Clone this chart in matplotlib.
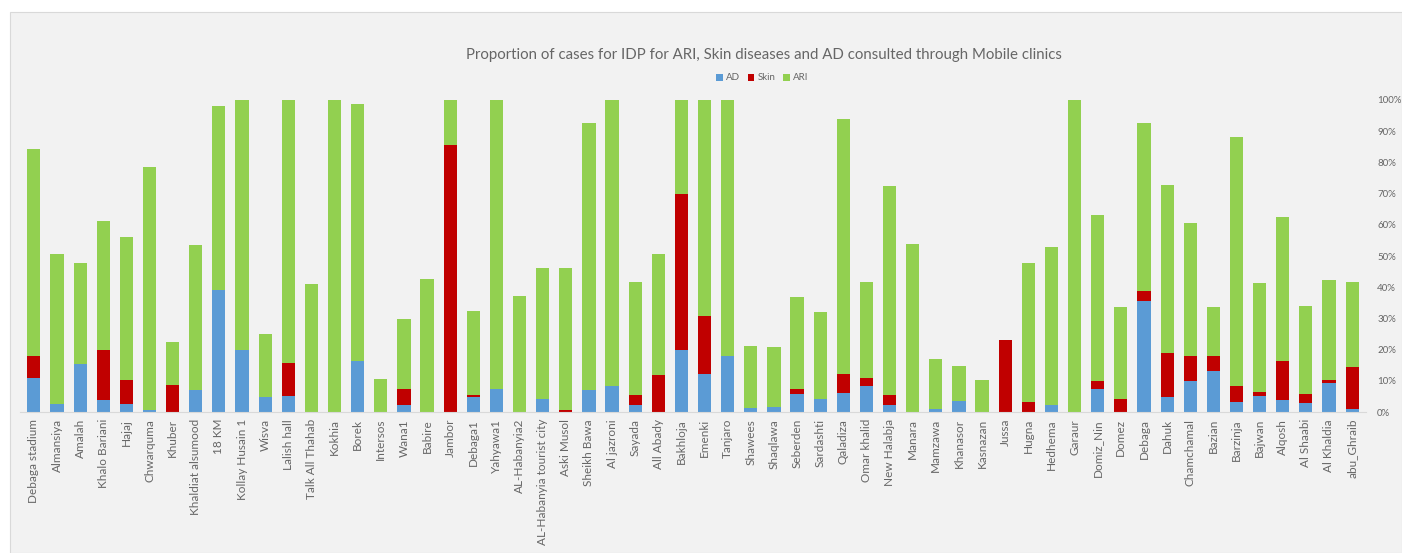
import matplotlib.pyplot as plt
import numpy as np
from matplotlib.patches import Rectangle

# Camp names (x categories), left to right
sites = [
    "Debaga stadium", "Almansiya", "Amalah", "Khalo Bariani", "Hajaj", "Chwarquma",
    "Khuber", "Khaldiat alsumood", "18 KM", "Kollay Husain 1", "Wisva", "Lalish hall",
    "Talk All Thahab", "Kokhia", "Borek", "Intersos", "Wana1", "Babire", "Jambor",
    "Debaga1", "Yahyawa1", "AL-Habanyia2", "AL-Habanyia tourist city", "Aski Musol",
    "Sheikh Bawa", "Al jazroni", "Sayada", "All Abady", "Bakhloja", "Emenki",
    "Tanjaro", "Shawees", "Shaqlawa", "Seberden", "Sardashti", "Qaladiza",
    "Omar khalid", "New Halabja", "Manara", "Mamzawa", "Khanasor", "Kasnazan",
    "Jussa", "Hugna", "Hedhema", "Garaur", "Domiz_Nin", "Domez", "Debaga", "Dahuk",
    "Chamchamal", "Bazian", "Barzinja", "Bajwan", "Alqosh", "Al Shaabi",
    "Al Khaldia", "abu_Ghraib",
]

# Share of consultations (%) per disease group
ad = [
    10.9, 2.6, 15.3, 3.7, 2.6, 0.7, 0.0, 6.9, 39.2, 20.0, 4.7, 5.0,
    0.0, 0.0, 16.4, 0.0, 2.1, 0.0, 0.0, 4.9, 7.5, 0.0, 4.2, 0.0,
    7.0, 8.2, 2.2, 0.0, 19.9, 12.1, 18.1, 1.2, 1.5, 5.8, 4.3, 6.1,
    8.2, 2.2, 0.0, 1.1, 3.6, 0.0, 0.0, 0.0, 2.1, 0.0, 7.5, 0.0,
    35.5, 4.7, 10.0, 13.2, 3.3, 5.0, 3.8, 3.0, 9.3, 1.1,
]
skin = [
    6.9, 0.0, 0.0, 16.3, 7.8, 0.0, 8.8, 0.0, 0.0, 0.0, 0.0, 10.7,
    0.0, 0.0, 0.0, 0.0, 5.4, 0.0, 85.6, 0.6, 0.0, 0.0, 0.0, 0.5,
    0.0, 0.0, 3.3, 11.8, 50.1, 18.8, 0.0, 0.0, 0.0, 1.7, 0.0, 6.1,
    2.6, 3.3, 0.0, 0.0, 0.0, 0.0, 23.2, 3.3, 0.0, 0.0, 2.5, 4.3,
    3.3, 14.2, 8.1, 4.9, 5.0, 1.5, 12.6, 2.9, 1.1, 13.2,
]
ari = [
    66.4, 47.9, 32.3, 41.2, 45.7, 77.7, 13.6, 46.7, 58.9, 80.0, 20.2, 84.3,
    40.9, 100.0, 82.3, 10.7, 22.4, 42.6, 14.4, 26.8, 92.5, 37.2, 41.9, 45.6,
    85.5, 91.8, 36.1, 38.7, 30.0, 69.1, 81.9, 20.1, 19.2, 29.4, 27.7, 81.6,
    30.8, 66.8, 53.7, 16.0, 11.0, 10.4, 0.0, 44.3, 50.8, 100.0, 53.2, 29.3,
    53.9, 53.8, 42.6, 15.5, 79.7, 34.7, 46.1, 28.1, 31.9, 27.5,
]

y_ticks = list(range(0, 101, 10))

COLORS = {"AD": "#5B9BD5", "Skin": "#C00000", "ARI": "#92D050"}
TEXT_GRAY = "#666666"

plt.rcParams["font.family"] = ["Lato", "DejaVu Sans"]

W, H = 1402, 553
fig = plt.figure(figsize=(W / 100, H / 100), dpi=100, facecolor="white")
fig.patches.append(
    Rectangle((10 / W, 0), 1 - 10 / W, 1 - 12 / H, transform=fig.transFigure,
              facecolor="#F2F2F2", edgecolor="#D9D9D9", linewidth=0.8, zorder=-5)
)

ax = fig.add_axes([20 / W, 141 / H, 1346 / W, 312 / H])
ax.set_facecolor("none")

x = np.arange(len(sites))
ad_a = np.array(ad)
skin_a = np.array(skin)
ari_a = np.array(ari)
width = 0.57
ax.bar(x, ad_a, width, color=COLORS["AD"], label="AD")
ax.bar(x, skin_a, width, bottom=ad_a, color=COLORS["Skin"], label="Skin")
ax.bar(x, ari_a, width, bottom=ad_a + skin_a, color=COLORS["ARI"], label="ARI")

ax.set_xlim(-0.6, len(sites) - 0.4)
ax.set_ylim(0, 100)
ax.set_xticks(x)
ax.set_xticklabels(sites, rotation=90, fontsize=8.5, color=TEXT_GRAY)
ax.tick_params(axis="x", length=0, pad=5)

ax.yaxis.tick_right()
ax.set_yticks(y_ticks)
ax.set_yticklabels([f"{t}%" for t in y_ticks], fontsize=7, color=TEXT_GRAY)
ax.tick_params(axis="y", length=0, pad=8)

for side in ("top", "left", "right"):
    ax.spines[side].set_visible(False)
ax.spines["bottom"].set_color("#D9D9D9")
ax.spines["bottom"].set_linewidth(0.8)

fig.text(764 / W, 1 - 55 / H,
         "Proportion of cases for IDP for ARI, Skin diseases and AD consulted through Mobile clinics",
         ha="center", va="center", fontsize=10.8, color=TEXT_GRAY)
fig.legend(loc="center", bbox_to_anchor=(762 / W, 1 - 78 / H), ncol=3, frameon=False,
           fontsize=7, handlelength=0.7, handleheight=0.7, handletextpad=0.3,
           columnspacing=0.8, labelcolor=TEXT_GRAY)

fig.savefig("out.png", dpi=100, facecolor="white")
